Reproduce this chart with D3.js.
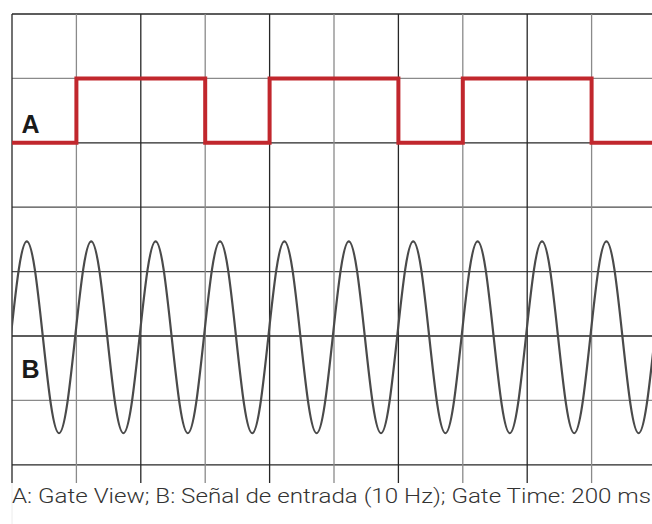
<!DOCTYPE html>
<html><head><meta charset="utf-8">
<script src="https://cdn.jsdelivr.net/npm/d3@7"></script>
<style>html,body{margin:0;padding:0;background:#fff;overflow:hidden}</style>
</head><body>
<svg id="chart" width="652" height="524"></svg>
<script>
// ---- data ----
const gridX = [0,1,2,3,4,5,6,7,8,9,10];          // vertical divisions
const gridY = [0,1,2,3,4,5,6,7];                 // horizontal divisions
const gateTimes  = [0, 1, 3, 4, 6, 7, 9, 10.2];  // A: Gate View transitions (div)
const gateLevels = [5, 6, 5, 6, 5, 6, 5, 5];      // A levels (div)
const sineCycleStarts = [-1.02,-0.02,0.98,1.98,2.98,3.98,4.98,5.98,6.98,7.98,8.98,9.98]; // rising zero crossings
const sineCyclePhase  = [0, 0.125, 0.25, 0.375, 0.5, 0.625, 0.75, 0.875];           // fraction of one cycle
const sineCycleLevels = [1.98, 3.03, 3.47, 3.03, 1.98, 0.93, 0.49, 0.93];            // B level read at each phase (div)
const labels = [{t:"A", y:5.15}, {t:"B", y:1.35}];
const caption = "A: Gate View; B: Señal de entrada (10 Hz); Gate Time: 200 ms";

// ---- layout ----
const svg = d3.select("#chart");
const x = d3.scaleLinear().domain([0, 10]).range([12, 656]);
const y = d3.scaleLinear().domain([0, 7]).range([464.8, 14]);

const sinePts = [];
sineCycleStarts.forEach(s => sineCyclePhase.forEach((p, i) => sinePts.push([s + p, sineCycleLevels[i]])));
sinePts.push([sineCycleStarts[sineCycleStarts.length-1] + 1, sineCycleLevels[0]]);

// faint line below
svg.append("line").attr("x1", x(0)).attr("x2", x(0)).attr("y1", 483).attr("y2", 524)
  .attr("stroke", "#ececec").attr("stroke-width", 1);

// grid
const dark = "#262626", gray = "#8a8a8a";
svg.append("g").selectAll("line").data(gridY).join("line")
  .attr("x1", x(0)).attr("x2", 660)
  .attr("y1", d => y(7 - d)).attr("y2", d => y(7 - d))
  .attr("stroke", (d) => (d === 1 || d === 6) ? gray : (d === 3 || d === 4) ? "#4a4a4a" : dark)
  .attr("stroke-width", 1.3);
svg.append("g").selectAll("line").data(gridX).join("line")
  .attr("x1", d => x(d)).attr("x2", d => x(d))
  .attr("y1", y(7)).attr("y2", 483)
  .attr("stroke", d => d % 2 === 0 ? dark : gray)
  .attr("stroke-width", 1.3);

// clip for signals
svg.append("clipPath").attr("id", "clip").append("rect")
  .attr("x", x(0)).attr("y", 0).attr("width", 700).attr("height", 524);

// B sine
svg.append("path")
  .attr("clip-path", "url(#clip)")
  .attr("d", d3.line().x(d => x(d[0])).y(d => y(d[1])).curve(d3.curveNatural)(sinePts))
  .attr("fill", "none").attr("stroke", "#4a4a4a").attr("stroke-width", 2.2);

// A gate
svg.append("path")
  .attr("clip-path", "url(#clip)")
  .attr("d", d3.line().x((d,i) => x(gateTimes[i])).y(d => y(d)).curve(d3.curveStepAfter)(gateLevels))
  .attr("fill", "none").attr("stroke", "#c1272d").attr("stroke-width", 4)
  .attr("stroke-linejoin", "miter");

// labels
svg.append("g").selectAll("text").data(labels).join("text")
  .attr("x", 21.5).attr("y", d => y(d.y))
  .attr("font-family", "Liberation Sans, Arial, sans-serif")
  .attr("font-weight", "bold").attr("font-size", 25).attr("fill", "#1a1a1a")
  .text(d => d.t);

// caption
svg.append("text").attr("x", 12).attr("y", 503)
  .attr("font-family", "Roboto, sans-serif").attr("font-weight", 300)
  .attr("font-size", 20).attr("fill", "#333")
  .attr("textLength", 639).attr("lengthAdjust", "spacingAndGlyphs")
  .text(caption);
</script>
</body></html>
